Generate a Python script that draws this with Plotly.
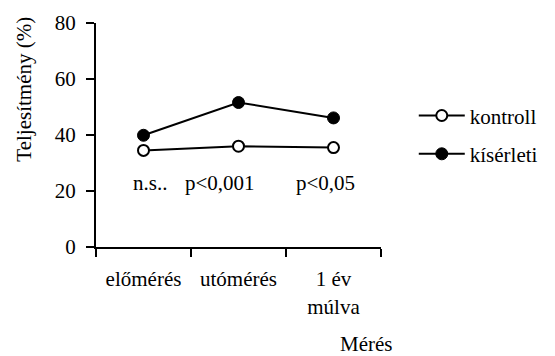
import plotly.graph_objects as go

categories = ["előmérés", "utómérés", "1 év<br>múlva"]
kontroll = [34.5, 36.0, 35.5]
kiserleti = [39.9, 51.6, 46.1]
p_labels = ["n.s..", "p<0,001", "p<0,05"]
p_label_x = [0.07, 0.8, 1.92]
p_label_y = 22.7
y_ticks = [0, 20, 40, 60, 80]

FONT = "Liberation Serif"

fig = go.Figure()
fig.add_trace(go.Scatter(
    x=categories, y=kontroll, name="kontroll", mode="lines+markers",
    line=dict(color="black", width=2),
    marker=dict(symbol="circle", size=11, color="white", line=dict(color="black", width=2)),
    legendgroup="a",
))
fig.add_trace(go.Scatter(
    x=categories, y=kiserleti, name="kísérleti", mode="lines+markers",
    line=dict(color="black", width=2),
    marker=dict(symbol="circle", size=12, color="black", line=dict(color="black", width=1)),
    legendgroup="b",
))

for t, xv in zip(p_labels, p_label_x):
    fig.add_annotation(x=xv, y=p_label_y, xref="x", yref="y", text=t, showarrow=False,
                       xanchor="center", yanchor="middle", font=dict(size=21, color="black", family=FONT))

fig.add_annotation(x=-0.254, y=0.705, xref="paper", yref="paper", text="Teljesítmény (%)",
                   textangle=-90, showarrow=False, xanchor="center", yanchor="middle",
                   font=dict(size=21, color="black", family=FONT))
fig.add_annotation(x=0.948, y=-0.433, xref="paper", yref="paper", text="Mérés",
                   showarrow=False, xanchor="center", yanchor="middle",
                   font=dict(size=21, color="black", family=FONT))

fig.update_layout(
    width=555, height=356,
    margin=dict(l=96, r=168, t=23, b=109),
    paper_bgcolor="white", plot_bgcolor="white",
    font=dict(family=FONT, size=21, color="black"),
    showlegend=True,
    legend=dict(x=1.115, y=0.677, xanchor="left", yanchor="top", xref="paper", yref="paper",
                traceorder="grouped", tracegroupgap=8, itemwidth=46,
                font=dict(size=21, family=FONT, color="black"), bgcolor="rgba(0,0,0,0)"),
    hovermode=False,
    xaxis=dict(
        type="category", range=[-0.5, 2.5], tickson="boundaries",
        showline=True, linecolor="black", linewidth=2,
        ticks="outside", ticklen=8, tickwidth=2, tickcolor="black",
        showgrid=False, zeroline=False, ticklabelstandoff=12,
        tickfont=dict(size=21, family=FONT, color="black"),
    ),
    yaxis=dict(
        range=[0, 80], tickvals=y_ticks,
        showline=True, linecolor="black", linewidth=2,
        ticks="outside", ticklen=8, tickwidth=2, tickcolor="black",
        showgrid=False, zeroline=False, ticklabelstandoff=6,
        tickfont=dict(size=21, family=FONT, color="black"),
    ),
)

fig.write_html("out.html")
